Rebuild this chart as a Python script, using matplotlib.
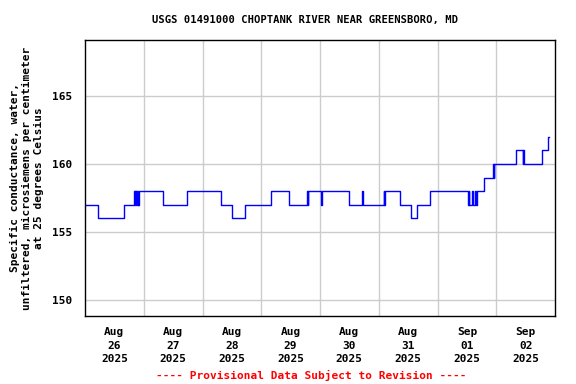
import pandas as pd
import matplotlib
matplotlib.use("Agg")
import matplotlib.pyplot as plt
import matplotlib.dates as mdates
from matplotlib.ticker import FixedLocator, NullFormatter

# Specific conductance readings (change points, held until the next one)
times = [
    "2025-08-26 00:00", "2025-08-26 05:30", "2025-08-26 16:00",
    "2025-08-26 20:00", "2025-08-26 20:15", "2025-08-26 20:30", "2025-08-26 20:45",
    "2025-08-26 21:00", "2025-08-26 21:15", "2025-08-26 21:30", "2025-08-26 21:45",
    "2025-08-26 22:00",
    "2025-08-27 08:00", "2025-08-27 17:30",
    "2025-08-28 07:45", "2025-08-28 12:00", "2025-08-28 17:30",
    "2025-08-29 04:00", "2025-08-29 11:30",
    "2025-08-29 18:45", "2025-08-29 19:00", "2025-08-29 19:15",
    "2025-08-30 00:30", "2025-08-30 00:45",
    "2025-08-30 12:00", "2025-08-30 17:15", "2025-08-30 17:30",
    "2025-08-31 02:00", "2025-08-31 02:15", "2025-08-31 02:30",
    "2025-08-31 08:30", "2025-08-31 13:00", "2025-08-31 15:30",
    "2025-08-31 20:45",
    "2025-09-01 12:30", "2025-09-01 12:45", "2025-09-01 13:00",
    "2025-09-01 14:15", "2025-09-01 14:30",
    "2025-09-01 15:30", "2025-09-01 15:45", "2025-09-01 16:00",
    "2025-09-01 19:00",
    "2025-09-01 22:45", "2025-09-01 23:00", "2025-09-01 23:15",
    "2025-09-02 08:15",
    "2025-09-02 10:45", "2025-09-02 11:00", "2025-09-02 11:15",
    "2025-09-02 18:45", "2025-09-02 21:00", "2025-09-02 21:30",
]
values = [
    157, 156, 157,
    158, 157, 158, 157,
    158, 157, 158, 157,
    158,
    157, 158,
    157, 156, 157,
    158, 157,
    158, 157, 158,
    157, 158,
    157, 158, 157,
    158, 157, 158,
    157, 156, 157,
    158,
    157, 158, 157,
    158, 157,
    158, 157, 158,
    159,
    160, 159, 160,
    161,
    160, 161, 160,
    161, 162, 162,
]

days = pd.date_range("2025-08-26", "2025-09-03", freq="D")
yticks = [150, 155, 160, 165]

title = "USGS 01491000 CHOPTANK RIVER NEAR GREENSBORO, MD"
ylabel = ("Specific conductance, water,\n"
          "unfiltered, microsiemens per centimeter\n"
          "at 25 degrees Celsius")
footer = "---- Provisional Data Subject to Revision ----"

plt.rcParams["font.family"] = ["DejaVu Sans Mono"]
plt.rcParams["font.weight"] = "bold"

t = pd.to_datetime(times)

fig = plt.figure(figsize=(5.76, 3.84), dpi=100)
ax = fig.add_axes([85 / 576, 1 - 316 / 384, 470 / 576, 276 / 384])

ax.step(t, values, where="post", color="#0000ff", linewidth=1)

ax.set_xlim(days[0], days[-1])
ax.set_ylim(148.82, 169.12)

# gridlines at midnight, labels at noon
ax.xaxis.set_major_locator(FixedLocator(mdates.date2num(days[1:-1])))
ax.xaxis.set_major_formatter(NullFormatter())
noons = days[:-1] + pd.Timedelta(hours=12)
ax.xaxis.set_minor_locator(FixedLocator(mdates.date2num(noons)))
ax.set_xticklabels([d.strftime("%b\n%d\n%Y") for d in noons], minor=True,
                   linespacing=1.45)
ax.set_yticks(yticks)

ax.tick_params(axis="both", which="both", length=0, labelsize=8, pad=9)
ax.tick_params(axis="x", which="minor", pad=8)
ax.grid(True, which="major", color="#cccccc", linewidth=1)
ax.set_axisbelow(True)
for s in ax.spines.values():
    s.set_color("black")
    s.set_linewidth(1)

fig.text(305 / 576, 1 - 20 / 384, title, ha="center", va="center", fontsize=7.6)
fig.text(27 / 576, 1 - 178 / 384, ylabel, ha="center", va="center",
         rotation=90, fontsize=8, multialignment="center", linespacing=1.3)
fig.text(311 / 576, 1 - 375 / 384, footer, ha="center", va="center",
         fontsize=8, color="red")

fig.savefig("out.png", dpi=100)
